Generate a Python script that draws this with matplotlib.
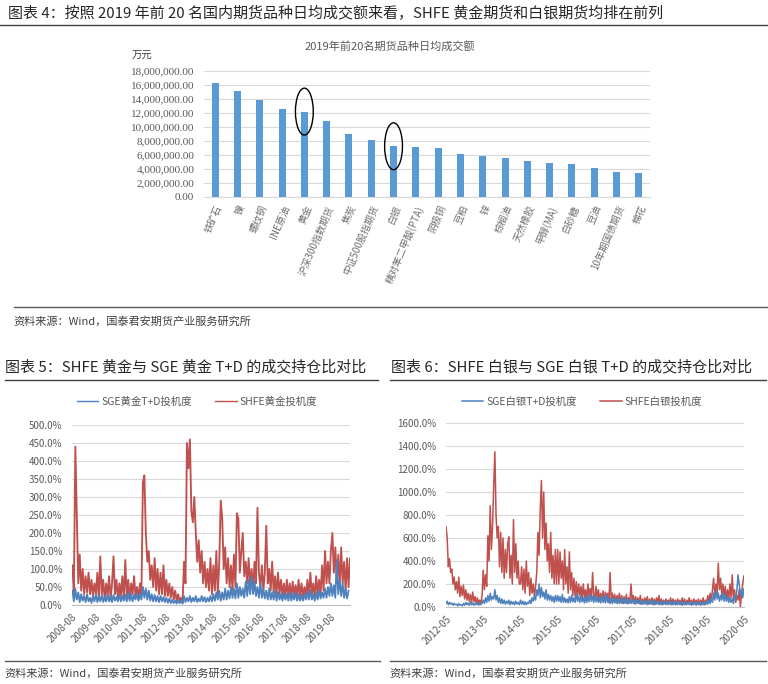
import matplotlib
matplotlib.use('Agg')
import matplotlib.pyplot as plt
import numpy as np
from matplotlib.lines import Line2D
from matplotlib.patches import Ellipse
from matplotlib.ticker import FuncFormatter, MultipleLocator

plt.rcParams['font.family'] = ['Noto Sans CJK SC', 'DejaVu Sans']

W, H = 768, 684

# ---- chart 4 data: 2019 top 20 futures, daily average turnover (万元)
categories = ['铁矿石', '镍', '螺纹钢', 'INE原油', '黄金', '沪深300指数期货', '焦炭',
              '中证500股指期货', '白银', '精对苯二甲酸(PTA)', '阴极铜', '豆粕', '锌',
              '棕榈油', '天然橡胶', '甲醇(MA)', '白砂糖', '豆油', '10年期国债期货', '棉花']
turnover = [16.3e6, 15.1e6, 13.9e6, 12.6e6, 12.2e6, 10.9e6, 9.0e6, 8.1e6, 7.25e6, 7.2e6,
            6.96e6, 6.1e6, 5.8e6, 5.6e6, 5.14e6, 4.9e6, 4.76e6, 4.1e6, 3.57e6, 3.47e6]
circled = ['黄金', '白银']

# ---- chart 5 data: gold speculation ratio (%), one reading every 1/16 year
gold_start = 2008.6
gold_per_year = 16
gold_shfe = [
    110, 30, 440, 250, 60, 140, 40, 100, 30, 80, 35, 90, 30, 70, 25, 60,
    30, 90, 15, 135, 30, 70, 15, 60, 25, 80, 15, 60, 135, 30, 70, 15,
    60, 25, 80, 15, 125, 25, 70, 15, 60, 30, 80, 20, 50, 15, 60, 30,
    340, 360, 200, 120, 150, 70, 110, 50, 130, 40, 100, 30, 90, 30, 110, 25,
    70, 25, 60, 20, 50, 15, 40, 10, 30, 10, 20, 5, 120, 60, 450, 380,
    460, 260, 230, 300, 200, 120, 180, 90, 150, 60, 120, 50, 100, 40, 130, 30,
    110, 40, 150, 30, 120, 290, 240, 100, 160, 60, 130, 50, 110, 40, 140, 50,
    255, 240, 90, 150, 200, 80, 120, 60, 130, 50, 100, 40, 120, 60, 270, 90,
    50, 110, 40, 90, 220, 60, 100, 40, 120, 35, 80, 30, 90, 30, 70, 25,
    60, 20, 70, 25, 60, 20, 65, 25, 55, 20, 70, 25, 60, 20, 50, 25,
    70, 25, 90, 30, 60, 20, 80, 30, 70, 30, 110, 40, 150, 60, 120, 60,
    150, 200, 90, 160, 60, 140, 50, 160, 60, 120, 40, 130, 50, 130]
gold_sge = [
    40, 10, 45, 15, 35, 8, 30, 12, 25, 8, 30, 10, 20, 6, 25, 10,
    30, 8, 25, 10, 28, 8, 22, 10, 30, 10, 25, 8, 28, 12, 22, 10,
    30, 10, 25, 12, 28, 10, 35, 12, 30, 10, 28, 15, 32, 12, 30, 15,
    50, 20, 45, 15, 40, 12, 30, 10, 28, 10, 25, 8, 25, 10, 22, 8,
    20, 6, 18, 5, 15, 5, 12, 4, 14, 5, 12, 4, 25, 8, 20, 10,
    25, 8, 20, 10, 25, 8, 18, 10, 25, 10, 22, 8, 20, 10, 25, 10,
    30, 12, 35, 15, 40, 12, 35, 15, 45, 15, 40, 18, 50, 20, 45, 18,
    60, 20, 50, 25, 45, 20, 65, 25, 70, 30, 80, 30, 65, 25, 50, 20,
    60, 20, 45, 18, 40, 15, 45, 15, 35, 15, 40, 12, 35, 15, 30, 12,
    35, 15, 30, 12, 35, 12, 30, 15, 35, 12, 30, 12, 28, 12, 30, 15,
    35, 15, 40, 15, 30, 12, 35, 15, 40, 18, 35, 20, 45, 20, 50, 25,
    60, 25, 55, 20, 125, 30, 70, 25, 60, 20, 45, 18, 40]
gold_ticks = ['2008-08', '2009-08', '2010-08', '2011-08', '2012-08', '2013-08',
              '2014-08', '2015-08', '2016-08', '2017-08', '2018-08', '2019-08']

# ---- chart 6 data: silver speculation ratio (%), one reading every 1/32 year
silver_start = 2012.33
silver_per_year = 32
silver_shfe = [
    700, 600, 350, 420, 300, 330, 200, 260, 150, 220, 120, 260, 90, 180, 100, 190,
    70, 150, 60, 120, 50, 110, 40, 130, 45, 90, 30, 80, 25, 60, 30, 100,
    320, 150, 280, 180, 620, 400, 880, 500, 700, 1050, 1350, 800, 600, 700, 350, 650,
    300, 600, 250, 500, 300, 550, 610, 250, 450, 200, 760, 300, 550, 250, 400, 200,
    200, 350, 150, 330, 120, 400, 180, 300, 100, 250, 120, 200, 90, 180, 300, 650,
    450, 850, 1100, 600, 1000, 500, 730, 400, 550, 300, 650, 250, 450, 200, 500, 200,
    500, 200, 480, 250, 400, 150, 500, 200, 350, 120, 480, 150, 300, 100, 250, 90,
    220, 80, 200, 100, 180, 70, 200, 80, 150, 60, 200, 90, 160, 70, 300, 80,
    80, 180, 60, 150, 50, 120, 60, 140, 50, 130, 60, 120, 40, 300, 60, 120,
    50, 110, 40, 100, 50, 120, 40, 100, 30, 90, 40, 110, 30, 80, 40, 200,
    50, 100, 30, 90, 40, 80, 30, 100, 25, 70, 30, 80, 30, 90, 25, 70,
    30, 80, 20, 70, 25, 80, 30, 100, 25, 70, 20, 60, 30, 70, 25, 60,
    30, 80, 20, 70, 25, 60, 20, 70, 30, 60, 20, 80, 25, 70, 20, 60,
    30, 80, 25, 60, 20, 70, 30, 60, 25, 70, 20, 60, 30, 80, 20, 60,
    30, 100, 40, 120, 50, 150, 250, 100, 200, 120, 380, 150, 250, 100, 200, 80,
    180, 70, 150, 60, 200, 80, 280, 60, 150, 40, 100, 60, 150, 0, 120, 200, 270]
silver_sge = [
    30, 50, 20, 40, 25, 35, 15, 30, 20, 25, 10, 30, 15, 20, 10, 30,
    15, 40, 20, 35, 15, 45, 20, 35, 15, 30, 20, 40, 15, 30, 20, 35,
    60, 30, 80, 40, 100, 50, 120, 60, 90, 70, 150, 60, 100, 40, 80, 30,
    70, 30, 60, 25, 50, 30, 60, 20, 50, 25, 45, 20, 50, 25, 40, 20,
    60, 25, 50, 20, 45, 20, 40, 30, 60, 30, 80, 50, 100, 60, 150, 100,
    200, 80, 170, 90, 130, 70, 150, 60, 110, 60, 100, 50, 90, 40, 100, 50,
    100, 50, 90, 40, 110, 40, 80, 40, 70, 35, 90, 40, 100, 45, 80, 40,
    120, 50, 90, 40, 100, 45, 80, 35, 90, 40, 100, 45, 110, 50, 90, 40,
    100, 45, 90, 40, 80, 35, 100, 40, 90, 35, 110, 40, 80, 30, 70, 30,
    80, 35, 75, 30, 70, 30, 80, 35, 70, 30, 75, 30, 70, 30, 65, 30,
    70, 30, 60, 25, 65, 30, 60, 25, 55, 25, 60, 25, 50, 20, 55, 25,
    60, 25, 50, 20, 55, 25, 50, 20, 45, 20, 50, 25, 45, 20, 50, 20,
    50, 20, 45, 20, 50, 20, 45, 20, 50, 20, 40, 15, 45, 20, 40, 20,
    45, 20, 40, 15, 45, 20, 40, 15, 40, 20, 45, 15, 40, 20, 45, 20,
    50, 25, 60, 30, 80, 40, 120, 60, 150, 70, 120, 50, 100, 60, 130, 50,
    110, 50, 90, 40, 80, 40, 70, 30, 100, 60, 150, 280, 200, 100, 150, 80, 160]
silver_ticks = ['2012-05', '2013-05', '2014-05', '2015-05', '2016-05',
                '2017-05', '2018-05', '2019-05', '2020-05']

RED = '#C0504D'
BLUE = '#4F81BD'
BAR = '#5B9BD5'
GRID = '#D9D9D9'
LABEL = '#595959'


def rect(x0, y0, x1, y1):
    return [x0 / W, 1 - y1 / H, (x1 - x0) / W, (y1 - y0) / H]


def fx(x):
    return x / W


def fy(y):
    return 1 - y / H


def hline(fig, x0, x1, y, color='#404040', lw=1.0):
    fig.add_artist(Line2D([fx(x0), fx(x1)], [fy(y), fy(y)], color=color, lw=lw))


def tick_pos(labels):
    return [int(s[:4]) + (int(s[5:]) - 1) / 12 for s in labels]


def series_dates(start, vals, per_year):
    return start + np.arange(len(vals)) / per_year


def style_line_axes(ax, ymax, step, ticks, xlim):
    ax.set_ylim(0, ymax)
    ax.set_xlim(*xlim)
    ax.yaxis.set_major_locator(MultipleLocator(step))
    ax.yaxis.set_major_formatter(FuncFormatter(lambda v, p: f'{v:.1f}%'))
    ax.grid(axis='y', color=GRID, lw=0.8)
    ax.set_axisbelow(True)
    for s in ['top', 'right', 'left']:
        ax.spines[s].set_visible(False)
    ax.spines['bottom'].set_color('#BFBFBF')
    ax.set_xticks(tick_pos(ticks))
    ax.set_xticklabels(ticks, rotation=45, ha='right', va='top', rotation_mode='anchor')
    ax.tick_params(axis='y', length=0, labelsize=7, labelcolor=LABEL, pad=7)
    ax.tick_params(axis='x', length=0, labelsize=7, labelcolor=LABEL, pad=5)


fig = plt.figure(figsize=(W / 100, H / 100), dpi=100)

# ---------------- chart 4 ----------------
fig.text(fx(8), fy(13), '图表 4：按照 2019 年前 20 名国内期货品种日均成交额来看，SHFE 黄金期货和白银期货均排在前列',
         fontsize=10.8, color='#262626', va='center', ha='left')
hline(fig, 0, 768, 25)
fig.text(fx(390), fy(46), '2019年前20名期货品种日均成交额', fontsize=8, color=LABEL, ha='center', va='center')
fig.text(fx(142), fy(56), '万元', fontsize=7.5, color='#404040', ha='center', va='center')

ax1 = fig.add_axes(rect(204, 71, 650, 197))
xs = np.arange(len(categories))
ax1.bar(xs, turnover, width=0.31, color=BAR, zorder=3)
ax1.set_xlim(-0.5, len(categories) - 0.5)
ax1.set_ylim(0, 18e6)
ax1.yaxis.set_major_locator(MultipleLocator(2e6))
ax1.yaxis.set_major_formatter(FuncFormatter(lambda v, p: f'{v:,.2f}'))
ax1.grid(axis='y', color=GRID, lw=0.8)
ax1.set_axisbelow(True)
for s in ['top', 'right', 'left']:
    ax1.spines[s].set_visible(False)
ax1.spines['bottom'].set_color(GRID)
ax1.set_xticks(xs)
ax1.set_xticklabels(categories, rotation=67, ha='right', va='top', rotation_mode='anchor')
for lab in ax1.get_yticklabels():
    lab.set_family(['Liberation Serif', 'DejaVu Serif'])
ax1.tick_params(axis='y', length=0, labelsize=8, labelcolor=LABEL, pad=7)
ax1.tick_params(axis='x', length=0, labelsize=7, labelcolor='#6E6E6E', pad=5)
for name in circled:
    i = categories.index(name)
    ax1.add_patch(Ellipse((i, turnover[i]), 0.8, 6.7e6, fill=False, ec='black', lw=1,
                          zorder=4, clip_on=False))

hline(fig, 14, 768, 307, color='#595959')
fig.text(fx(13), fy(321), '资料来源：Wind，国泰君安期货产业服务研究所', fontsize=8, color='#404040',
         ha='left', va='center')

# ---------------- chart 5 ----------------
fig.text(fx(5), fy(367), '图表 5：SHFE 黄金与 SGE 黄金 T+D 的成交持仓比对比', fontsize=10.8,
         color='#262626', ha='left', va='center')
hline(fig, 5, 378, 380)

ax2 = fig.add_axes(rect(72, 425, 350, 605))
l_red, = ax2.plot(series_dates(gold_start, gold_shfe, gold_per_year), gold_shfe, color=RED, lw=1.35)
l_blue, = ax2.plot(series_dates(gold_start, gold_sge, gold_per_year), gold_sge, color=BLUE, lw=1.3)
style_line_axes(ax2, 500, 50, gold_ticks,
                (gold_start, gold_start + (len(gold_shfe) - 1) / gold_per_year))
fig.legend([l_blue, l_red], ['SGE黄金T+D投机度', 'SHFE黄金投机度'], loc='center',
           bbox_to_anchor=(fx(197), fy(402)), ncol=2, frameon=False, fontsize=7.5,
           handlelength=2.1, handletextpad=0.3, columnspacing=2.2, labelcolor=LABEL)
for lh in fig.legends[-1].get_lines():
    lh.set_linewidth(1.0)

hline(fig, 5, 380, 661, color='#595959')
fig.text(fx(4), fy(673), '资料来源：Wind，国泰君安期货产业服务研究所', fontsize=8, color='#404040',
         ha='left', va='center')

# ---------------- chart 6 ----------------
fig.text(fx(391), fy(367), '图表 6：SHFE 白银与 SGE 白银 T+D 的成交持仓比对比', fontsize=10.8,
         color='#262626', ha='left', va='center')
hline(fig, 390, 766, 380)

ax3 = fig.add_axes(rect(446, 423, 744, 607))
r_red, = ax3.plot(series_dates(silver_start, silver_shfe, silver_per_year), silver_shfe,
                  color=RED, lw=1.1)
r_blue, = ax3.plot(series_dates(silver_start, silver_sge, silver_per_year), silver_sge,
                   color=BLUE, lw=1.1)
style_line_axes(ax3, 1600, 200, silver_ticks,
                (silver_start, silver_start + (len(silver_shfe) - 1) / silver_per_year))
fig.legend([r_blue, r_red], ['SGE白银T+D投机度', 'SHFE白银投机度'], loc='center',
           bbox_to_anchor=(fx(582), fy(402)), ncol=2, frameon=False, fontsize=7.5,
           handlelength=2.1, handletextpad=0.3, columnspacing=2.2, labelcolor=LABEL)

hline(fig, 390, 766, 661, color='#595959')
fig.text(fx(389), fy(673), '资料来源：Wind，国泰君安期货产业服务研究所', fontsize=8, color='#404040',
         ha='left', va='center')

fig.savefig('out.png', dpi=100)
